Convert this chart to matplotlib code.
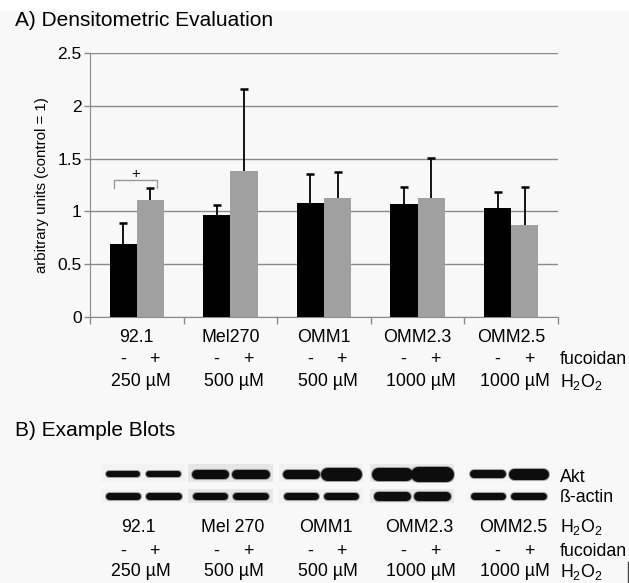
import matplotlib
matplotlib.use('Agg')
import matplotlib.pyplot as plt
from matplotlib.patches import Rectangle
from matplotlib.lines import Line2D
from matplotlib.transforms import blended_transform_factory
import numpy as np

plt.rcParams['font.family'] = ['Liberation Sans', 'DejaVu Sans']
plt.rcParams['mathtext.default'] = 'regular'

# Daten
cell_lines = ['92.1', 'Mel270', 'OMM1', 'OMM2.3', 'OMM2.5']
blot_lines = ['92.1', 'Mel 270', 'OMM1', 'OMM2.3', 'OMM2.5']
h2o2_doses = ['250 µM', '500 µM', '500 µM', '1000 µM', '1000 µM']
control = [0.69, 0.97, 1.08, 1.07, 1.03]
control_err = [0.20, 0.09, 0.27, 0.16, 0.15]
fucoidan = [1.11, 1.38, 1.13, 1.13, 0.87]
fucoidan_err = [0.11, 0.78, 0.24, 0.38, 0.36]

# Blot-Banden: Dicke je Spur (-/+ pro Zelllinie)
akt_bands = [[6, 6], [9, 9], [9, 13], [13, 15], [8, 11]]
actin_bands = [[7, 7], [7, 7], [7, 7], [9, 9], [7, 7]]
panel_shift = [0.07, 0.0, -0.03, -0.06, -0.03]
panel_bg = ['#f3f3f3', '#e6e6e6', '#f1f1f1', '#e9e9e9', '#f6f6f6']

W, H = 629, 583
fig = plt.figure(figsize=(W / 100, H / 100), dpi=100, facecolor='#f8f8f8')


def fx(px):
    return px / W


def fy(px):
    return 1 - px / H


fig.patches.append(Rectangle((0, fy(11)), 1, 1, transform=fig.transFigure,
                             facecolor='white', edgecolor='none', zorder=0))

ax = fig.add_axes([fx(90), fy(317), fx(558) - fx(90), fy(53) - fy(317)])
ax.set_facecolor('none')
x = np.arange(len(cell_lines))
bw = 0.29
ax.bar(x - bw / 2, control, bw, color='black', zorder=3)
ax.bar(x + bw / 2, fucoidan, bw, color='#a0a0a0', zorder=3)
for xs, vals, errs in [(x - bw / 2, control, control_err), (x + bw / 2, fucoidan, fucoidan_err)]:
    eb = ax.errorbar(xs, vals, yerr=[np.zeros(5), errs], fmt='none', ecolor='black',
                     elinewidth=1.3, capsize=2.6, capthick=1.8, zorder=4)
    # nur obere Kappen zeigen
    for cl in eb[1]:
        if np.allclose(cl.get_ydata(), vals):
            cl.set_visible(False)

ax.set_xlim(-0.5, 4.5)
ax.set_ylim(0, 2.5)
ax.set_yticks([0, 0.5, 1, 1.5, 2, 2.5])
ax.set_yticklabels(['0', '0.5', '1', '1.5', '2', '2.5'], fontsize=12.5)
ax.set_xticks(np.arange(-0.5, 5, 1))
ax.set_xticklabels([])
ax.tick_params(axis='x', length=5, color='#8a8a8a', width=1)
ax.tick_params(axis='y', length=4, color='#8a8a8a', width=1, pad=2)
ax.grid(axis='y', color='#8a8a8a', linewidth=1, zorder=0)
for s in ['top', 'right']:
    ax.spines[s].set_visible(False)
for s in ['left', 'bottom']:
    ax.spines[s].set_color('#8a8a8a')
ax.set_ylabel('arbitrary units (control = 1)', fontsize=10.8, labelpad=6)

# Signifikanz-Klammer 92.1
ax.plot([-0.24, -0.24, 0.22, 0.22], [1.22, 1.30, 1.30, 1.22], color='#9a9a9a', lw=1, zorder=4)
ax.text(-0.01, 1.35, '+', ha='center', va='center', fontsize=10.5)

fig.text(fx(15), fy(20), 'A) Densitometric Evaluation', fontsize=15, va='center')
fig.text(fx(15), fy(430), 'B) Example Blots', fontsize=15, va='center')

tr = blended_transform_factory(ax.transData, fig.transFigure)
fs = 12.8
for i in range(5):
    ax.text(i, fy(338), cell_lines[i], transform=tr, ha='center', va='center', fontsize=fs)
    ax.text(i - 0.15, fy(359), '-', transform=tr, ha='center', va='center', fontsize=fs)
    ax.text(i + 0.19, fy(359), '+', transform=tr, ha='center', va='center', fontsize=fs)
    ax.text(i + 0.04, fy(382), h2o2_doses[i], transform=tr, ha='center', va='center', fontsize=fs)
    ax.text(i + 0.02, fy(527), blot_lines[i], transform=tr, ha='center', va='center', fontsize=fs)
    ax.text(i - 0.15, fy(551), '-', transform=tr, ha='center', va='center', fontsize=fs)
    ax.text(i + 0.19, fy(551), '+', transform=tr, ha='center', va='center', fontsize=fs)
    ax.text(i + 0.04, fy(572), h2o2_doses[i], transform=tr, ha='center', va='center', fontsize=fs)

for yy, lab in [(359, 'fucoidan'), (382, 'H$_2$O$_2$'), (477, 'Akt'), (497, 'ß-actin'),
                (527, 'H$_2$O$_2$'), (551, 'fucoidan'), (572, 'H$_2$O$_2$')]:
    fig.text(fx(560), fy(yy), lab, fontsize=fs, va='center', ha='left')

# Blots
bx = fig.add_axes([fx(90), fy(508.7), fx(558) - fx(90), fy(460.3) - fy(508.7)])
bx.set_xlim(-0.5, 4.5)
bx.set_ylim(1.6, -0.6)
bx.axis('off')
for i in range(5):
    c = i + panel_shift[i]
    bx.add_patch(Rectangle((c - 0.45, -0.45), 0.9, 0.85, facecolor=panel_bg[i],
                           edgecolor='none', zorder=0))
    bx.add_patch(Rectangle((c - 0.45, 0.72), 0.9, 0.62, facecolor=panel_bg[i],
                           edgecolor='none', zorder=0))
    for k, off in enumerate([-0.215, 0.215]):
        for row, bands in [(0, akt_bands), (1, actin_bands)]:
            t = bands[i][k] * 0.72
            bx.plot([c + off - 0.15, c + off + 0.15], [row, row], color='#555555',
                    lw=t + 1.5, solid_capstyle='round', alpha=0.5, zorder=2)
            bx.plot([c + off - 0.15, c + off + 0.15], [row, row], color='#0d0d0d',
                    lw=t, solid_capstyle='round', zorder=3)

fig.add_artist(Line2D([fx(628), fx(628)], [fy(562), 0], color='#444444', lw=1))

fig.savefig('out.png', dpi=100, facecolor=fig.get_facecolor())
